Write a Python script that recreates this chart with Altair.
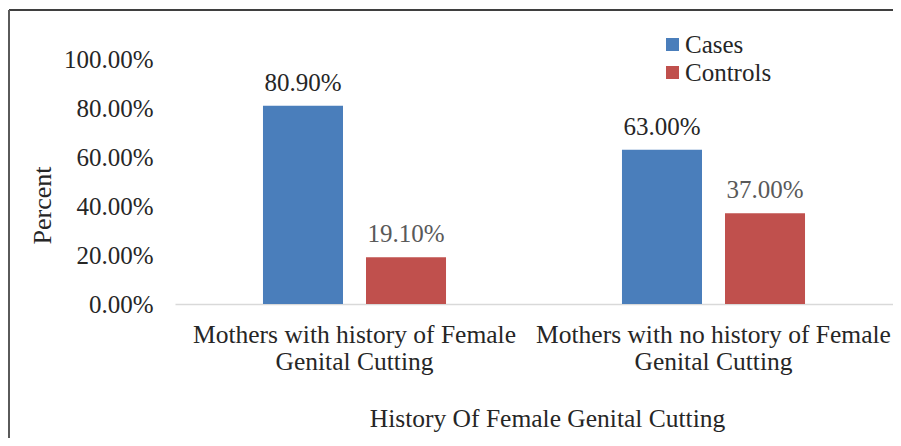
import altair as alt
import pandas as pd

categories = ["Mothers with history of Female Genital Cutting",
              "Mothers with no history of Female Genital Cutting"]
series = ["Cases", "Controls"]
cases = [0.809, 0.63]
controls = [0.191, 0.37]
y_ticks = [0.0, 0.2, 0.4, 0.6, 0.8, 1.0]
colors = ["#4a7ebb", "#c0504d"]

rows = []
for i, c in enumerate(categories):
    rows.append({"category": c, "series": "Cases", "value": cases[i]})
    rows.append({"category": c, "series": "Controls", "value": controls[i]})
df = pd.DataFrame(rows)

FONT = "Liberation Serif"
FS = 25

x_enc = alt.X("category:N", sort=categories,
              scale=alt.Scale(paddingInner=0, paddingOuter=0),
              axis=alt.Axis(
                  title="History Of Female Genital Cutting",
                  labelAngle=0, labelFont=FONT, labelFontSize=25.5,
                  labelColor="#262626", labelLineHeight=27, labelLimit=0,
                  labelExpr="[substring(datum.label, 0, indexof(datum.label, ' Genital')), 'Genital Cutting']",
                  labelPadding=18, labelBaseline="top",
                  ticks=False, domainColor="#d9d9d9", domainWidth=1.5,
                  titleFont=FONT, titleFontSize=25.5, titleFontWeight="normal",
                  titleColor="#262626", titleX=372, titleY=114,
                  titleBaseline="middle", titleAnchor="middle", titleAlign="center"))
xoff = alt.XOffset("series:N", sort=series,
                   scale=alt.Scale(paddingInner=0.2233, paddingOuter=0.854))
y_enc = alt.Y("value:Q", scale=alt.Scale(domain=[0, 1], nice=False),
              axis=alt.Axis(values=y_ticks, format=".2%", title="Percent",
                            labelFont=FONT, labelFontSize=FS, labelColor="#262626",
                            labelPadding=22, ticks=False, domain=False, grid=False,
                            titleFont=FONT, titleFontSize=26, titleFontWeight="normal",
                            titleColor="#262626", titleX=-133, titleY=146,
                            titleBaseline="middle", titleAngle=-90))

base = alt.Chart(df)

bars = base.mark_bar().encode(
    x=x_enc, xOffset=xoff, y=y_enc,
    color=alt.Color("series:N", sort=series,
                    scale=alt.Scale(domain=series, range=colors),
                    legend=alt.Legend(title=None, orient="none", legendX=485, legendY=-27,
                                      symbolType="square", symbolSize=169,
                                      symbolStrokeWidth=0,
                                      labelFont=FONT, labelFontSize=FS,
                                      labelColor="#262626", rowPadding=2,
                                      labelOffset=0)),
)

labels = base.mark_text(font=FONT, fontSize=FS, baseline="alphabetic", dy=-15).encode(
    x=alt.X("category:N", sort=categories), xOffset=alt.XOffset("series:N", sort=series),
    y="value:Q",
    text=alt.Text("value:Q", format=".2%"),
    color=alt.condition("datum.series == 'Cases'", alt.value("#262626"), alt.value("#595959")),
)

frame_top = alt.Chart(pd.DataFrame({"a": [0]})).mark_rule(color="#3f3f3f", strokeWidth=2, clip=False).encode(
    x=alt.value(-166), x2=alt.value(740), y=alt.value(-49))
frame_left = alt.Chart(pd.DataFrame({"a": [0]})).mark_rule(color="#5a5a5a", strokeWidth=2, clip=False).encode(
    x=alt.value(-166), y=alt.value(-49), y2=alt.value(400))

chart = alt.layer(bars, labels, frame_top, frame_left).properties(
    width=718, height=245,
    autosize=alt.AutoSizeParams(type="none"),
    padding={"left": 167, "top": 51, "right": 0, "bottom": 134},
).configure(background="white", font=FONT).configure_view(stroke=None)

chart.save("out.html", embed_options={"renderer": "svg", "actions": False})
